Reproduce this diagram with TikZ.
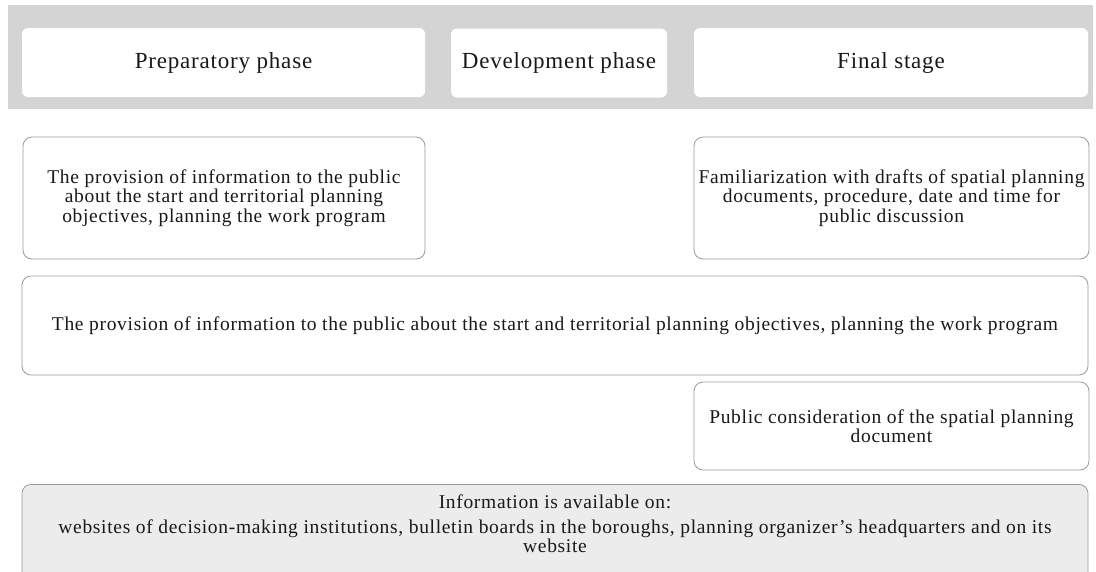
\documentclass[tikz,border=0pt]{standalone}
\usepackage{fontspec}
\setmainfont{Liberation Serif}[LetterSpace=3.5]
\usepackage{tikz}
\usetikzlibrary
  {
    positioning,              % place nodes relative to other nodes
  }

\definecolor{bandgray}{RGB}{212,212,212}
\definecolor{boxline}{RGB}{155,155,155}
\definecolor{infofill}{RGB}{236,236,236}
\definecolor{inkblack}{RGB}{25,25,25}

\begin{document}
\begin{tikzpicture}
    [
      x=1pt, y=-1pt,
      phase/.style=
        {
          rectangle,
          rounded corners=6pt,
          fill=white,
          inner sep=0pt,
          minimum height=69pt,
          text=inkblack,
          font=\fontsize{23}{26}\selectfont,
        },
      stagebox/.style=
        {
          rectangle,
          rounded corners=9pt,
          draw=boxline,
          line width=0.8pt,
          fill=white,
          align=center,
          inner sep=0pt,
          text=inkblack,
          font=\fontsize{19.5}{19.5}\selectfont,
        }
    ]
    \useasboundingbox (0,0) rectangle (1096,571);
    \clip (0,0) rectangle (1096,571);

    % phases
    \node (band) [fill=bandgray, inner sep=0pt, minimum width=1085pt, minimum height=104pt] at (550.5,57) {};
    \node (prep) [phase, minimum width=403pt] at (223.5,62.5) {Preparatory phase};
    \node (dev) [phase, minimum width=216pt] at (559,63) {Development phase};
    \node (final) [phase, minimum width=394pt] at (891,62.5) {Final stage};

    % steps
    \node (prov) [stagebox, minimum width=402pt, minimum height=122pt] at (224,198)
      {The provision of information to the public\\
       about the start and territorial planning\\
       objectives, planning the work program};
    \node (famil) [stagebox, minimum width=395pt, minimum height=122pt] at (891.5,198)
      {Familiarization with drafts of spatial planning\\
       documents, procedure, date and time for\\
       public discussion};
    \node (provwide) [stagebox, minimum width=1066pt, minimum height=99pt] at (555,325.5)
      {The provision of information to the public about the start and territorial planning objectives, planning the work program};
    \node (public) [stagebox, minimum width=395pt, minimum height=88pt] at (891.5,426)
      {Public consideration of the spatial planning\\
       document};

    % where to find it
    \node (infobox) [stagebox, fill=infofill, anchor=north, minimum width=1066pt, minimum height=130pt] at (555,484) {};
    \node (infotext) [below=11pt of infobox.north, align=center, inner sep=0pt, text=inkblack,
                      font=\fontsize{19.5}{19.5}\selectfont]
      {Information is available on:\\[5pt]
       websites of decision-making institutions, bulletin boards in the boroughs, planning organizer's headquarters and on its\\
       website};
\end{tikzpicture}
\end{document}
